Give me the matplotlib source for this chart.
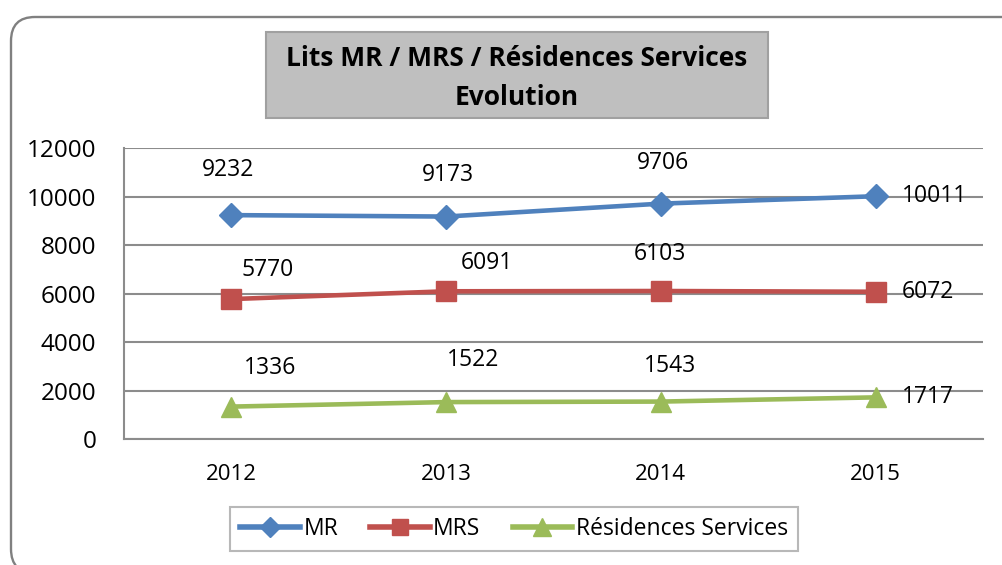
import matplotlib
matplotlib.use("Agg")
import matplotlib.pyplot as plt
from matplotlib.patches import FancyBboxPatch, Rectangle
from matplotlib.transforms import IdentityTransform
from matplotlib.font_manager import fontManager

years = ["2012", "2013", "2014", "2015"]
mr = [9232, 9173, 9706, 10011]
mrs = [5770, 6091, 6103, 6072]
residences = [1336, 1522, 1543, 1717]
series_names = ["MR", "MRS", "Résidences Services"]

# label offsets in pixels (dx, dy) relative to each point
offsets_mr = [(-3, 45), (2, 42), (2, 41), (26, 0)]
offsets_mrs = [(36, 29), (41, 28), (-1, 37), (26, 0)]
offsets_res = [(39, 39), (27, 42), (9, 36), (26, 0)]

colors = ["#4F81BD", "#C0504D", "#9BBB59"]
markers = ["D", "s", "^"]
marker_sizes = [12, 14, 15]

names = {f.name for f in fontManager.ttflist}
base_font = "Open Sans" if "Open Sans" in names else "DejaVu Sans"
narrow_font = "Liberation Sans Narrow" if "Liberation Sans Narrow" in names else base_font

W, H = 1002, 565
fig = plt.figure(figsize=(W / 100, H / 100), dpi=100)


def px(x, y):
    return x / W, 1 - y / H


# outer rounded frame, drawn in pixel coordinates (runs off the right/bottom edge)
frame = FancyBboxPatch((11, H - 573), 1060 - 11, 573 - 17,
                       transform=IdentityTransform(),
                       boxstyle="round,pad=0,rounding_size=24",
                       facecolor="none", edgecolor="#808080", linewidth=1.7,
                       zorder=-1)
fig.patches.append(frame)

# title box
tx0, ty0 = px(266, 118)
tx1, ty1 = px(768, 32)
fig.patches.append(Rectangle((tx0, ty0), tx1 - tx0, ty1 - ty0, transform=fig.transFigure,
                             facecolor="#BFBFBF", edgecolor="#A0A0A0", linewidth=1.5))
fig.text(*px(517, 78), "Lits MR / MRS / Résidences Services\nEvolution",
         ha="center", va="center", fontsize=19, fontweight="bold",
         family=narrow_font, linespacing=1.55, color="black")

ax = fig.add_axes([124 / W, 1 - 439 / H, 859 / W, 291 / H])
ax.patch.set_alpha(0)
x = list(range(len(years)))
all_series = [mr, mrs, residences]
all_offsets = [offsets_mr, offsets_mrs, offsets_res]

for vals, offs, name, c, m, ms in zip(all_series, all_offsets, series_names,
                                      colors, markers, marker_sizes):
    ax.plot(x, vals, color=c, linewidth=3.3, marker=m, markersize=ms,
            markeredgecolor=c, label=name, zorder=3)
    for i, v in enumerate(vals):
        dx, dy = offs[i]
        ax.annotate(str(v), (x[i], v), xytext=(dx, dy), textcoords="offset pixels",
                    ha="left" if i == len(vals) - 1 else "center", va="center",
                    fontsize=16.5, family=base_font, zorder=4)

ax.set_xlim(-0.5, 3.5)
ax.set_ylim(0, 12000)
ax.set_yticks(range(0, 12001, 2000))
ax.set_xticks(x)
ax.set_xticklabels(years, family=narrow_font, fontsize=16)
for lab in ax.get_yticklabels():
    lab.set_family(base_font)
    lab.set_fontsize(17.5)
ax.tick_params(axis="both", length=0)
ax.tick_params(axis="y", pad=20)
ax.tick_params(axis="x", pad=18)
ax.grid(axis="y", color="#8C8C8C", linewidth=1.5)
ax.set_axisbelow(True)
for side in ["top", "right"]:
    ax.spines[side].set_visible(False)
for side in ["left", "bottom"]:
    ax.spines[side].set_color("#8C8C8C")
    ax.spines[side].set_linewidth(1.5)

leg = fig.legend(loc="center", bbox_to_anchor=px(514, 529), ncol=3,
                 prop={"family": narrow_font, "size": 16.5}, frameon=True,
                 fancybox=False, edgecolor="#A6A6A6", handlelength=2.6,
                 columnspacing=1.4, handletextpad=0.15, borderpad=0.45,
                 borderaxespad=0)
leg.get_frame().set_linewidth(1.5)
for h, ms in zip(leg.legend_handles, marker_sizes):
    h.set_markersize(ms * 0.85)
    h.set_linewidth(4)

fig.savefig("out.png", dpi=100)
